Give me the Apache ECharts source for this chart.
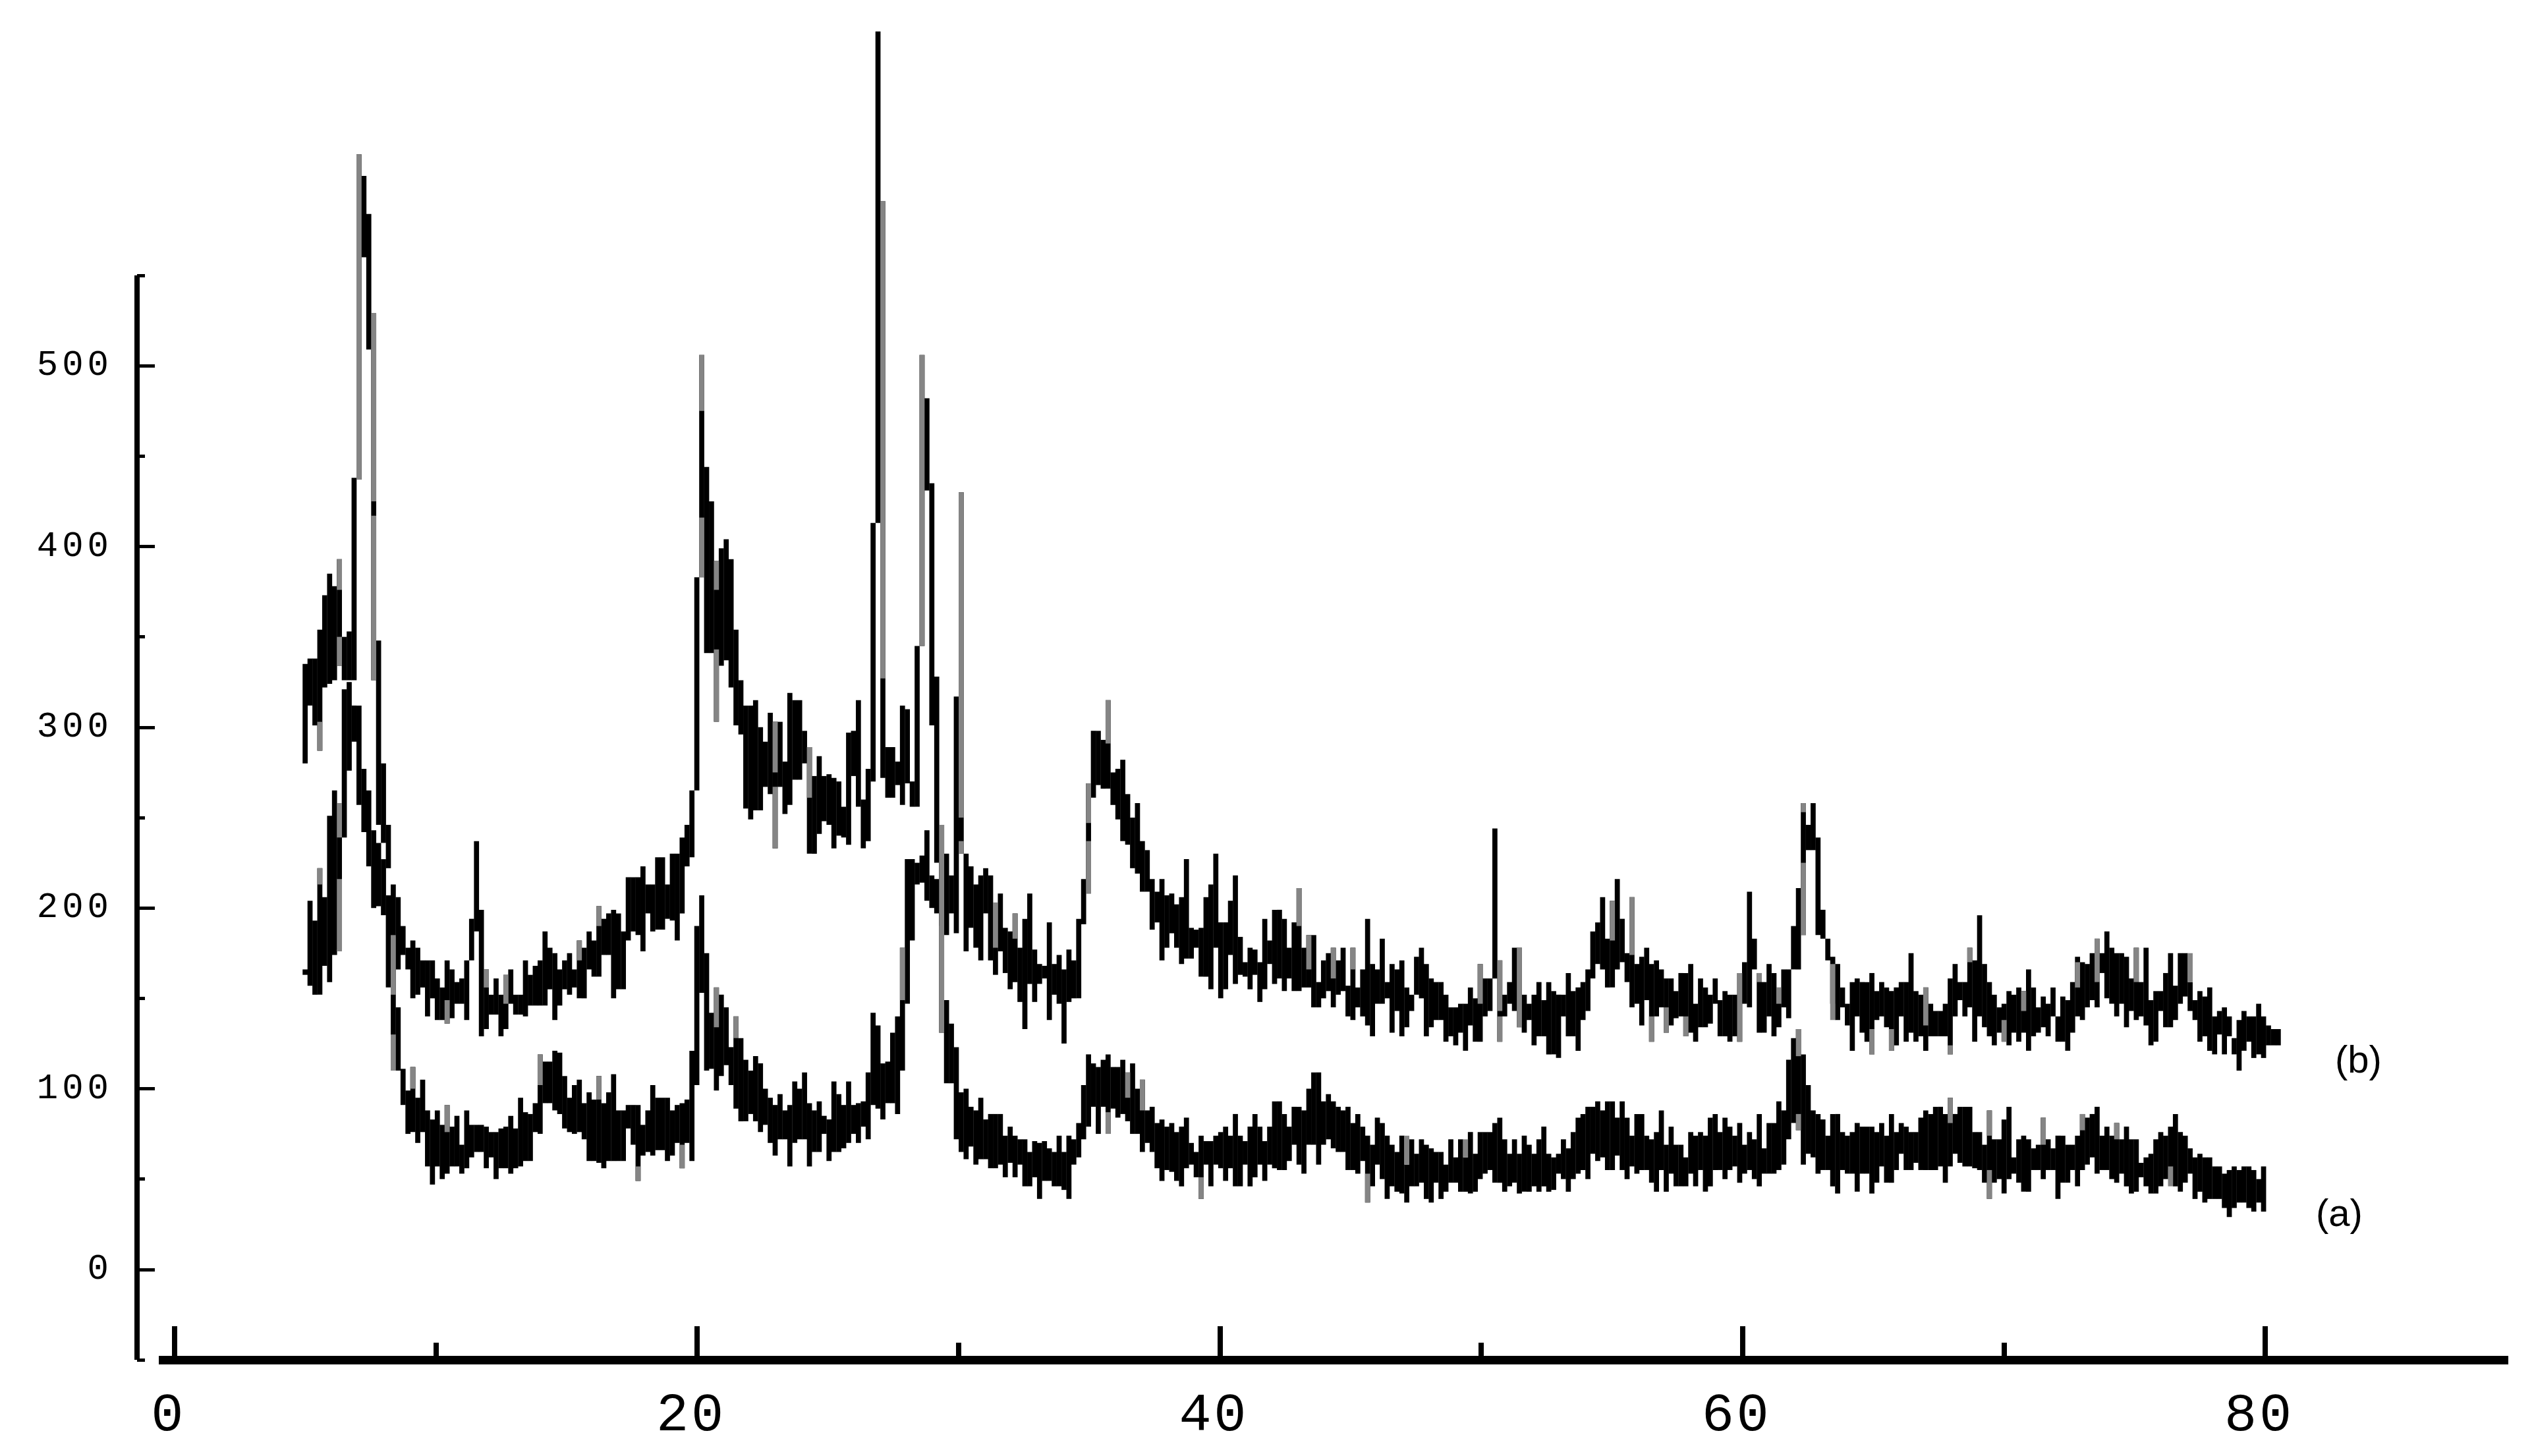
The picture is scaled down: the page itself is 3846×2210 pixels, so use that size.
<!DOCTYPE html>
<html><head><meta charset="utf-8">
<style>html,body{margin:0;padding:0;background:#fff}#c{width:3846px;height:2210px}</style>
<script src="https://cdn.jsdelivr.net/npm/echarts@6/dist/echarts.min.js"></script>
</head><body><div id="c"></div>
<script>
const scanStart = 5, scanStep = 0.18734;
const xMajorTicks = [0,20,40,60,80], xMinorTicks = [10,30,50,70];
const yMajorTicks = [0,100,200,300,400,500], yMinorTicks = [-50,50,150,250,350,450,550];

const bHigh = [
335,338,338,354,373,385,378,393,350,353,438,617,605,584,529,348,280,246,213,206,
190,178,182,178,171,171,171,161,156,171,166,159,161,171,194,237,199,166,152,161,
152,163,166,152,152,171,163,168,171,187,178,175,166,171,175,166,182,178,187,182,
201,194,197,199,197,187,217,217,217,223,213,213,228,228,213,230,230,239,246,265,
383,506,444,425,392,399,404,393,354,326,312,312,315,300,292,308,303,303,281,319,
315,315,298,289,273,284,273,274,272,270,256,297,298,315,260,277,413,685,591,289,
289,281,312,310,270,345,506,482,435,328,246,230,218,317,430,230,223,213,218,222,
218,203,208,189,187,197,178,194,208,177,169,168,192,169,174,166,177,171,194,216,
269,298,298,293,315,275,277,282,263,250,258,237,232,216,209,216,207,208,202,206,
227,189,188,189,206,213,230,192,192,204,218,184,170,178,177,170,194,182,199,
199,194,178,192,211,178,185,185,159,171,
175,178,171,178,157,178,156,166,194,169,
166,183,159,169,166,171,156,152,173,178,
169,161,159,159,152,145,145,147,147,156,
150,169,161,161,244,171,152,159,178,178,
152,147,152,159,149,159,154,152,152,164,
154,156,159,166,187,192,206,183,
204,216,194,175,206,169,173,178,169,171,
166,161,161,154,164,164,169,147,161,156,
152,161,149,154,152,152,164,170,209,183,
164,159,169,164,156,166,166,190,211,258,
246,258,239,199,183,173,169,156,147,159,
161,159,159,164,154,159,156,154,156,159,
159,175,154,152,156,147,143,
143,147,161,169,159,159,178,171,196,169,
159,152,145,147,154,152,156,154,166,156,
145,151,147,156,140,151,149,159,173,170,
169,175,183,175,187,178,175,175,173,161,
178,159,178,149,154,154,164,175,157,175,
175,159,149,154,151,156,140,143,145,140,
128,138,143,140,140,147,140,135,133,133];
const bLow = [
280,312,301,287,322,324,326,334,326,326,326,437,560,509,326,246,236,222,184,166,
174,166,150,152,156,140,150,138,138,136,139,147,147,138,171,187,129,133,141,141,
129,133,147,141,141,140,146,146,146,146,155,138,146,155,152,156,150,150,166,162,
162,174,174,150,155,155,182,187,185,176,197,187,188,188,194,193,182,197,223,228,
265,383,341,341,303,334,337,322,301,296,255,249,254,254,267,263,233,267,252,257,
271,271,280,230,230,241,248,246,233,240,239,235,273,256,233,237,270,413,272,261,
261,268,257,269,256,256,345,431,301,225,190,185,197,186,230,176,189,178,171,197,
171,163,176,164,155,159,148,133,158,148,158,161,138,152,147,125,148,150,150,191,
208,261,268,266,266,257,249,237,235,222,219,209,209,188,192,171,178,186,178,169,
172,172,178,162,162,155,178,150,155,174,158,163,162,155,163,148,155,169,158,
161,154,161,154,154,156,156,145,145,150,
154,145,152,154,140,138,145,140,135,129,
147,147,150,131,143,129,134,143,152,150,
129,134,138,138,126,129,124,131,121,135,
126,126,140,143,161,126,140,147,143,134,
131,138,124,129,129,119,119,117,140,129,
129,121,138,143,161,169,166,156,
156,166,170,159,145,147,135,149,126,140,
145,131,135,139,140,129,131,126,134,134,
136,147,129,129,126,129,126,147,145,166,
131,131,140,129,134,145,139,166,166,185,
232,232,185,183,171,147,138,145,135,121,
140,131,126,119,138,140,134,121,124,140,
126,131,126,129,121,129,129,
129,129,119,140,149,140,145,126,140,134,
129,124,131,126,124,131,126,131,121,129,
131,134,129,140,126,126,121,131,140,138,
145,149,145,164,150,147,140,147,134,143,
138,140,135,124,126,143,134,134,138,147,
151,143,138,126,129,121,119,130,119,129,
119,110,121,126,117,119,117,124,124,124];
const aHigh = [
166,204,193,222,206,251,265,258,321,325,312,312,277,265,243,236,227,207,185,145,
111,99,112,95,105,88,83,88,80,91,79,85,69,88,80,80,80,79,76,76,
78,79,85,78,95,87,86,92,119,115,115,121,120,107,95,102,105,92,98,94,
107,92,98,108,88,88,91,91,91,80,88,102,95,95,95,88,91,92,94,121,
190,207,175,142,156,152,145,123,140,128,116,110,118,114,100,95,91,97,88,91,
104,100,109,92,88,93,85,83,104,97,91,104,91,92,93,109,142,135,114,115,
131,140,178,227,227,225,229,243,218,216,246,149,136,123,98,100,90,88,95,83,
86,86,86,74,79,74,72,72,65,71,70,71,67,65,74,65,74,72,81,102,
119,114,112,116,119,112,112,116,109,114,100,105,88,90,81,83,79,81,76,79,
84,70,65,74,71,71,74,76,79,74,86,74,71,79,86,79,71,79,93,
93,86,79,90,90,88,100,109,109,93,
97,93,90,88,90,81,86,79,74,69,
84,81,74,69,65,74,58,72,64,72,
69,67,65,65,58,72,62,72,62,76,
64,76,76,76,81,84,72,64,72,64,
74,69,64,72,79,64,62,64,72,67,
76,84,86,90,90,93,88,93,
93,84,93,84,74,86,86,74,72,76,
88,69,79,69,69,62,76,74,76,74,
84,86,76,84,79,74,81,69,76,72,
86,67,81,81,93,88,116,128,133,119,
102,88,86,83,74,86,86,76,74,76,
81,79,79,79,76,81,74,86,76,81,
79,76,76,84,88,86,90,
90,86,95,86,90,90,90,76,76,69,
88,72,72,83,90,62,72,74,72,67,
69,84,72,67,74,74,69,69,74,86,
84,86,90,74,79,74,81,72,79,72,
72,59,62,64,72,76,74,79,86,76,
74,67,62,64,62,62,57,57,53,55,
57,55,57,57,55,50,57];
const aLow = [
163,157,152,152,168,159,174,177,239,276,292,257,242,223,200,201,196,156,110,110,
91,75,76,70,76,57,47,57,50,53,57,57,53,56,62,65,65,56,62,50,
56,56,53,56,57,60,60,76,75,92,92,88,86,78,76,75,76,72,60,60,
59,56,60,60,60,60,78,69,49,63,65,63,66,66,60,63,70,56,70,60,
102,153,110,111,99,107,113,102,89,82,82,86,82,76,80,70,63,72,72,57,
70,72,72,57,65,65,75,60,65,65,67,70,75,70,79,72,91,89,83,92,
92,86,110,147,182,213,214,204,200,197,131,103,103,72,65,61,68,58,61,61,
56,56,58,51,59,51,58,46,46,51,39,49,49,46,46,44,39,58,62,72,
79,90,75,90,75,89,84,86,82,75,75,65,70,65,56,49,55,54,49,46,
56,58,51,39,58,46,58,56,49,56,46,46,58,46,51,58,49,58,56,
55,55,60,69,58,53,69,69,58,69,
72,67,65,65,55,55,53,60,37,46,
58,50,39,46,43,42,37,46,46,48,
39,37,48,39,43,48,48,43,43,42,
43,50,53,55,48,48,43,46,48,42,
43,43,46,43,46,43,44,53,50,43,
50,53,55,50,64,60,62,55,
55,63,55,50,57,53,55,55,48,43,
55,43,53,46,46,46,53,46,55,43,
46,55,55,50,55,57,48,53,55,50,
46,53,53,53,55,58,72,81,77,58,
64,62,53,55,55,46,42,55,53,53,
43,53,53,42,48,57,48,48,55,64,
55,55,59,55,55,55,55,
57,48,57,64,59,57,57,56,55,48,
39,48,50,42,50,53,48,43,43,55,
55,50,55,55,39,48,48,55,46,55,
58,62,53,55,55,50,48,53,46,42,
43,51,46,42,42,46,50,55,46,43,
48,53,39,43,37,39,39,39,34,29,
34,37,37,34,32,37,32];

const grayColumn = [3,3,7,7,7,7,11,14,14,18,18,81,81,84,84,96,96,103,118,122,126,130,134,134,160,160,164,203,240,244,244,248,267,271,293,306,306,344,344,
141,145,205,210,214,275,278,282,297,301,312,320,324,331,336,340,347,351,362,366,374,385,
336,355,363,370,381,305,305,217,225,237,164,168,171,183,68,84,88,77,56,60,37,41,29,29,22,48,60];
const grayHigh   = [303,222,393,350,258,216,617,529,417,185,130,506,416,392,343,303,267,289,591,178,506,246,430,237,269,237,315,211,169,171,140,178,204,206,164,258,225,88,55,
203,197,185,178,178,140,145,140,164,156,169,133,133,156,124,178,138,154,170,183,178,175,
95,84,86,81,57,133,86,53,74,72,87,109,105,51,57,156,140,69,182,201,166,163,149,91,112,119,107];
const grayLow    = [287,213,376,334,239,176,437,425,326,152,110,475,383,376,303,275,233,261,327,149,345,131,250,230,247,208,291,190,147,143,126,134,182,174,126,253,185,74,39,
178,183,166,161,166,126,131,129,159,147,138,119,121,135,119,170,126,143,156,159,159,159,
81,69,77,72,46,118,77,37,58,62,75,95,88,39,49,134,128,56,171,190,156,147,136,76,100,102,94];

function col(i){ return scanStart + i*scanStep; }
function columns(high, low){ return high.map((h,i)=>[col(i),h,low[i]]); }
function grayMarks(){ return grayColumn.map((c,k)=>[col(c),grayHigh[k],grayLow[k]]); }
function columnRenderer(color){
  return function(params, api){
    const x=api.value(0), top=api.coord([x,api.value(1)]), bot=api.coord([x,api.value(2)]);
    const w=api.size([scanStep,0])[0]+0.3;
    return {type:'rect',shape:{x:top[0]-w/2,y:top[1],width:w,height:bot[1]-top[1]},style:{fill:color}};
  };
}
if(bHigh.length!==bLow.length||aHigh.length!==aLow.length||grayColumn.length!==grayHigh.length||grayHigh.length!==grayLow.length)
  throw new Error('len '+[bHigh.length,bLow.length,aHigh.length,aLow.length,grayColumn.length,grayHigh.length,grayLow.length]);

const mono='"Liberation Mono"';
function spaced(v,key){ return String(v).split('').map(c=>'{'+key+'|'+c+'}').join('{'+key+'s| }'); }
const seriesCommon={type:'custom',animation:false,silent:true,clip:false,encode:{x:0,y:[1,2]}};
const chart=echarts.init(document.getElementById('c'),null,{renderer:'canvas'});
chart.setOption({
  animation:false,backgroundColor:'#fff',
  grid:{left:241,top:418,width:3566,height:1646,containLabel:false},
  xAxis:[
    {type:'value',min:-0.6,max:89.3,position:'bottom',splitLine:{show:false},
     axisLine:{show:true,onZero:false,lineStyle:{color:'#000',width:13,cap:'butt'}},
     axisTick:{show:true,inside:true,length:51,lineStyle:{color:'#000',width:8},customValues:xMajorTicks},
     axisLabel:{show:true,margin:44,customValues:xMajorTicks,color:'#000',padding:[0,22,0,0],
       formatter:v=>spaced(v,'x'),
       rich:{x:{fontFamily:mono,fontSize:82,color:'#000'},xs:{fontFamily:mono,fontSize:6}}}},
    {type:'value',min:-0.6,max:89.3,position:'bottom',splitLine:{show:false},
     axisLine:{show:false,onZero:false},axisLabel:{show:false},
     axisTick:{show:true,inside:true,length:26,lineStyle:{color:'#000',width:8},customValues:xMinorTicks}}
  ],
  yAxis:[
    {type:'value',min:-50,max:550,interval:50,position:'left',offset:33,splitLine:{show:false},
     axisLine:{show:true,onZero:false,lineStyle:{color:'#000',width:8,cap:'butt'}},
     axisTick:{show:true,inside:true,length:27,lineStyle:{color:'#000',width:5},customValues:yMajorTicks},
     axisLabel:{show:true,margin:43,customValues:yMajorTicks,color:'#000',
       formatter:v=>spaced(v,'y'),
       rich:{y:{fontFamily:mono,fontSize:54,color:'#000'},ys:{fontFamily:mono,fontSize:10}}}},
    {type:'value',min:-50,max:550,interval:50,position:'left',offset:33,splitLine:{show:false},
     axisLine:{show:false,onZero:false},axisLabel:{show:false},
     axisTick:{show:true,inside:true,length:12,lineStyle:{color:'#000',width:5},customValues:yMinorTicks}}
  ],
  series:[
    {...seriesCommon,name:'(b)',data:columns(bHigh,bLow),renderItem:columnRenderer('#000'),z:3},
    {...seriesCommon,name:'(a)',data:columns(aHigh,aLow),renderItem:columnRenderer('#000'),z:3},
    {...seriesCommon,name:'gray',data:grayMarks(),renderItem:columnRenderer('#858585'),z:4}
  ],
  graphic:[
    {type:'text',left:3544,top:1583,style:{text:'(b)',fontFamily:'"Liberation Sans"',fontSize:58,fill:'#000'}},
    {type:'text',left:3515,top:1816,style:{text:'(a)',fontFamily:'"Liberation Sans"',fontSize:58,fill:'#000'}}
  ]
});
</script></body></html>
